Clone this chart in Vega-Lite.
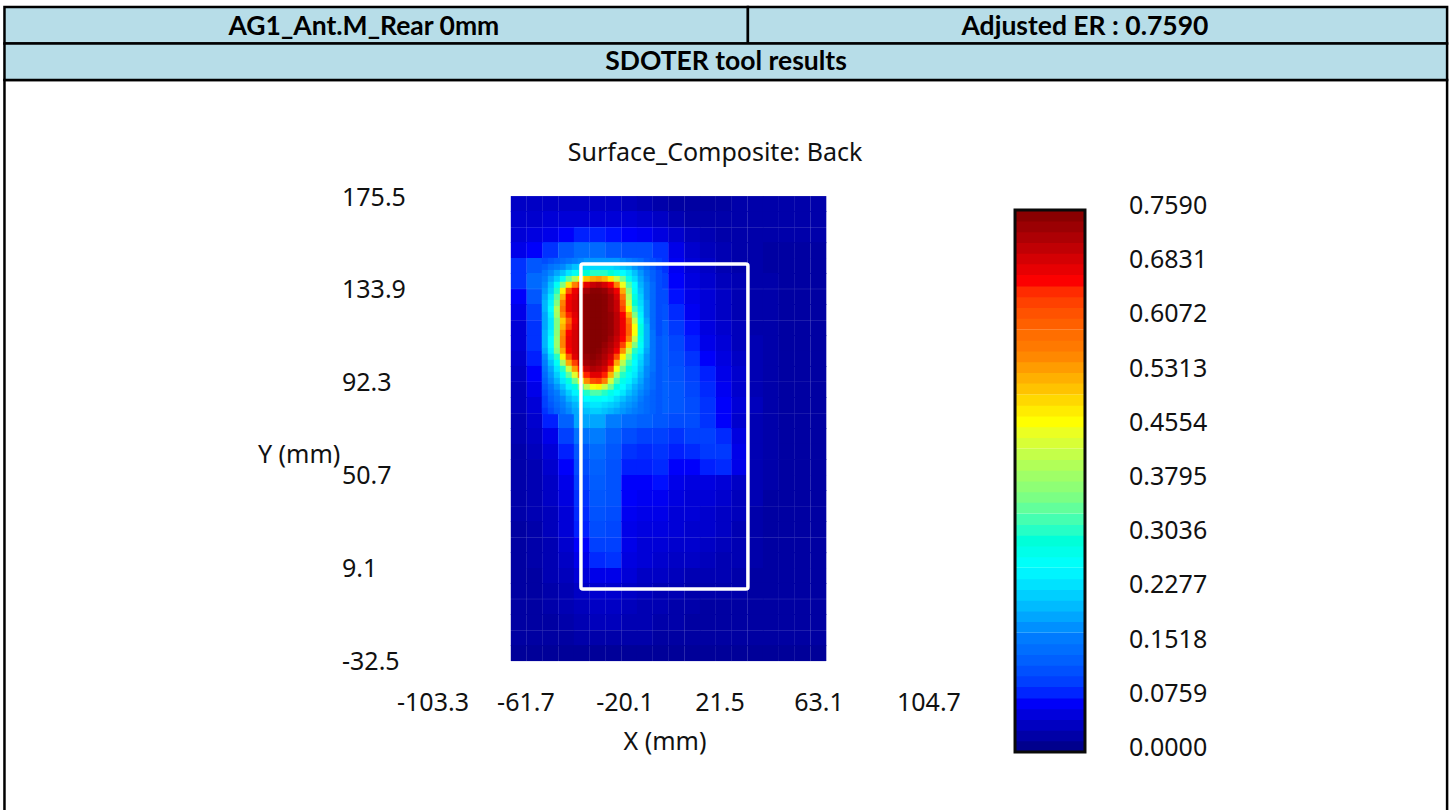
{"$schema":"https://vega.github.io/schema/vega-lite/v6.json","width":1450,"height":810,"autosize":{"type":"fit","contains":"padding"},"padding":0,"background":"white","config":{"view":{"stroke":null}},
"datasets":{"frame":[{"x":-288.3,"x2":44.3,"y":260.1,"y2":243.7},{"x":44.3,"x2":357.1,"y":260.1,"y2":243.7},{"x":-288.3,"x2":357.1,"y":243.7,"y2":227.4}],
"body":[{"x":-288.3,"x2":357.1,"y":227.4,"y2":-110}],
"heads":[{"t":"AG1_Ant.M_Rear 0mm","x":-127.5,"y":250.9},{"t":"Adjusted ER : 0.7590","x":195.1,"y":250.9},{"t":"SDOTER tool results","x":34.5,"y":235.3}],
"ylabs":[{"t":"175.5","y":175.5},{"t":"133.9","y":133.9},{"t":"92.3","y":92.3},{"t":"50.7","y":50.7},{"t":"9.1","y":9.1},{"t":"-32.5","y":-32.5}],
"xlabs":[{"t":"-103.3","x":-96.6},{"t":"-61.7","x":-55},{"t":"-20.1","x":-10.7},{"t":"21.5","x":31.8},{"t":"63.1","x":76.1},{"t":"104.7","x":125.3}],
"caps":[{"t":"Surface_Composite: Back","x":29.6,"y":194.8},{"t":"X (mm)","x":7.2,"y":-68.8}],
"phone":[{"x":-30.4,"x2":44.3,"y":145.1,"y2":-0.3}],
"ticks":[{"v":0.759,"t":"0.7590"},{"v":0.6831,"t":"0.6831"},{"v":0.6072,"t":"0.6072"},{"v":0.5313,"t":"0.5313"},{"v":0.4554,"t":"0.4554"},{"v":0.3795,"t":"0.3795"},{"v":0.3036,"t":"0.3036"},{"v":0.2277,"t":"0.2277"},{"v":0.1518,"t":"0.1518"},{"v":0.0759,"t":"0.0759"},{"v":0,"t":"0.0000"}],
"bar":[{"v":0.008},{"v":0.023},{"v":0.038},{"v":0.053},{"v":0.068},{"v":0.083},{"v":0.099},{"v":0.114},{"v":0.129},{"v":0.144},{"v":0.159},{"v":0.175},{"v":0.19},{"v":0.205},{"v":0.22},{"v":0.235},{"v":0.25},{"v":0.266},{"v":0.281},{"v":0.296},{"v":0.311},{"v":0.326},{"v":0.342},{"v":0.357},{"v":0.372},{"v":0.387},{"v":0.402},{"v":0.417},{"v":0.433},{"v":0.448},{"v":0.463},{"v":0.478},{"v":0.493},{"v":0.509},{"v":0.524},{"v":0.539},{"v":0.554},{"v":0.569},{"v":0.584},{"v":0.6},{"v":0.615},{"v":0.63},{"v":0.645},{"v":0.66},{"v":0.676},{"v":0.691},{"v":0.706},{"v":0.721},{"v":0.736},{"v":0.751}],
"coarse":[
{"x":-58.2,"y":171.9,"v":0.04},{"x":-51.1,"y":171.9,"v":0.04},{"x":-44.1,"y":171.9,"v":0.04},{"x":-37,"y":171.9,"v":0.04},{"x":-30,"y":171.9,"v":0.04},{"x":-22.9,"y":171.9,"v":0.04},{"x":-15.9,"y":171.9,"v":0.04},{"x":-8.8,"y":171.9,"v":0.035},{"x":-1.8,"y":171.9,"v":0.03},{"x":5.3,"y":171.9,"v":0.025},{"x":12.3,"y":171.9,"v":0.02},{"x":19.4,"y":171.9,"v":0.02},{"x":26.4,"y":171.9,"v":0.02},{"x":33.5,"y":171.9,"v":0.02},{"x":40.5,"y":171.9,"v":0.025},{"x":47.6,"y":171.9,"v":0.025},{"x":54.6,"y":171.9,"v":0.025},{"x":61.7,"y":171.9,"v":0.025},{"x":68.7,"y":171.9,"v":0.025},{"x":75.8,"y":171.9,"v":0.025},
{"x":-58.2,"y":165.2,"v":0.045},{"x":-51.1,"y":165.2,"v":0.045},{"x":-44.1,"y":165.2,"v":0.05},{"x":-37,"y":165.2,"v":0.05},{"x":-30,"y":165.2,"v":0.05},{"x":-22.9,"y":165.2,"v":0.05},{"x":-15.9,"y":165.2,"v":0.05},{"x":-8.8,"y":165.2,"v":0.05},{"x":-1.8,"y":165.2,"v":0.045},{"x":5.3,"y":165.2,"v":0.04},{"x":12.3,"y":165.2,"v":0.03},{"x":19.4,"y":165.2,"v":0.025},{"x":26.4,"y":165.2,"v":0.025},{"x":33.5,"y":165.2,"v":0.025},{"x":40.5,"y":165.2,"v":0.025},{"x":47.6,"y":165.2,"v":0.025},{"x":54.6,"y":165.2,"v":0.025},{"x":61.7,"y":165.2,"v":0.025},{"x":68.7,"y":165.2,"v":0.025},{"x":75.8,"y":165.2,"v":0.025},
{"x":-58.2,"y":158,"v":0.05},{"x":-51.1,"y":158,"v":0.055},{"x":-44.1,"y":158,"v":0.06},{"x":-37,"y":158,"v":0.07},{"x":-30,"y":158,"v":0.08},{"x":-22.9,"y":158,"v":0.08},{"x":-15.9,"y":158,"v":0.075},{"x":-8.8,"y":158,"v":0.07},{"x":-1.8,"y":158,"v":0.065},{"x":5.3,"y":158,"v":0.055},{"x":12.3,"y":158,"v":0.045},{"x":19.4,"y":158,"v":0.035},{"x":26.4,"y":158,"v":0.03},{"x":33.5,"y":158,"v":0.025},{"x":40.5,"y":158,"v":0.025},{"x":47.6,"y":158,"v":0.025},{"x":54.6,"y":158,"v":0.025},{"x":61.7,"y":158,"v":0.025},{"x":68.7,"y":158,"v":0.025},{"x":75.8,"y":158,"v":0.025},
{"x":-58.2,"y":151.3,"v":0.06},{"x":-51.1,"y":151.3,"v":0.07},{"x":-44.1,"y":151.3,"v":0.09},{"x":-37,"y":151.3,"v":0.12},{"x":-30,"y":151.3,"v":0.14},{"x":-22.9,"y":151.3,"v":0.14},{"x":-15.9,"y":151.3,"v":0.12},{"x":-8.8,"y":151.3,"v":0.11},{"x":-1.8,"y":151.3,"v":0.11},{"x":5.3,"y":151.3,"v":0.09},{"x":12.3,"y":151.3,"v":0.06},{"x":19.4,"y":151.3,"v":0.045},{"x":26.4,"y":151.3,"v":0.035},{"x":33.5,"y":151.3,"v":0.03},{"x":40.5,"y":151.3,"v":0.025},{"x":47.6,"y":151.3,"v":0.025},{"x":54.6,"y":151.3,"v":0.02},{"x":61.7,"y":151.3,"v":0.02},{"x":68.7,"y":151.3,"v":0.02},{"x":75.8,"y":151.3,"v":0.02},
{"x":-58.2,"y":144.2,"v":0.09},{"x":-51.1,"y":144.2,"v":0.12},{"x":5.3,"y":144.2,"v":0.09},{"x":12.3,"y":144.2,"v":0.065},{"x":19.4,"y":144.2,"v":0.05},{"x":26.4,"y":144.2,"v":0.04},{"x":33.5,"y":144.2,"v":0.03},{"x":40.5,"y":144.2,"v":0.025},{"x":47.6,"y":144.2,"v":0.025},{"x":54.6,"y":144.2,"v":0.02},{"x":61.7,"y":144.2,"v":0.02},{"x":68.7,"y":144.2,"v":0.02},{"x":75.8,"y":144.2,"v":0.02},
{"x":-58.2,"y":137.5,"v":0.09},{"x":-51.1,"y":137.5,"v":0.14},{"x":5.3,"y":137.5,"v":0.1},{"x":12.3,"y":137.5,"v":0.07},{"x":19.4,"y":137.5,"v":0.055},{"x":26.4,"y":137.5,"v":0.045},{"x":33.5,"y":137.5,"v":0.035},{"x":40.5,"y":137.5,"v":0.03},{"x":47.6,"y":137.5,"v":0.025},{"x":54.6,"y":137.5,"v":0.025},{"x":61.7,"y":137.5,"v":0.02},{"x":68.7,"y":137.5,"v":0.02},{"x":75.8,"y":137.5,"v":0.02},
{"x":-58.2,"y":130.3,"v":0.07},{"x":-51.1,"y":130.3,"v":0.12},{"x":5.3,"y":130.3,"v":0.11},{"x":12.3,"y":130.3,"v":0.075},{"x":19.4,"y":130.3,"v":0.06},{"x":26.4,"y":130.3,"v":0.05},{"x":33.5,"y":130.3,"v":0.04},{"x":40.5,"y":130.3,"v":0.03},{"x":47.6,"y":130.3,"v":0.025},{"x":54.6,"y":130.3,"v":0.025},{"x":61.7,"y":130.3,"v":0.02},{"x":68.7,"y":130.3,"v":0.02},{"x":75.8,"y":130.3,"v":0.02},
{"x":-58.2,"y":123.6,"v":0.06},{"x":-51.1,"y":123.6,"v":0.1},{"x":5.3,"y":123.6,"v":0.115},{"x":12.3,"y":123.6,"v":0.085},{"x":19.4,"y":123.6,"v":0.065},{"x":26.4,"y":123.6,"v":0.05},{"x":33.5,"y":123.6,"v":0.04},{"x":40.5,"y":123.6,"v":0.03},{"x":47.6,"y":123.6,"v":0.025},{"x":54.6,"y":123.6,"v":0.025},{"x":61.7,"y":123.6,"v":0.02},{"x":68.7,"y":123.6,"v":0.02},{"x":75.8,"y":123.6,"v":0.02},
{"x":-58.2,"y":116.4,"v":0.05},{"x":-51.1,"y":116.4,"v":0.09},{"x":5.3,"y":116.4,"v":0.125},{"x":12.3,"y":116.4,"v":0.095},{"x":19.4,"y":116.4,"v":0.075},{"x":26.4,"y":116.4,"v":0.055},{"x":33.5,"y":116.4,"v":0.045},{"x":40.5,"y":116.4,"v":0.035},{"x":47.6,"y":116.4,"v":0.025},{"x":54.6,"y":116.4,"v":0.025},{"x":61.7,"y":116.4,"v":0.02},{"x":68.7,"y":116.4,"v":0.02},{"x":75.8,"y":116.4,"v":0.02},
{"x":-58.2,"y":109.7,"v":0.05},{"x":-51.1,"y":109.7,"v":0.09},{"x":5.3,"y":109.7,"v":0.13},{"x":12.3,"y":109.7,"v":0.105},{"x":19.4,"y":109.7,"v":0.08},{"x":26.4,"y":109.7,"v":0.06},{"x":33.5,"y":109.7,"v":0.05},{"x":40.5,"y":109.7,"v":0.035},{"x":47.6,"y":109.7,"v":0.03},{"x":54.6,"y":109.7,"v":0.025},{"x":61.7,"y":109.7,"v":0.02},{"x":68.7,"y":109.7,"v":0.02},{"x":75.8,"y":109.7,"v":0.02},
{"x":-58.2,"y":102.6,"v":0.045},{"x":-51.1,"y":102.6,"v":0.08},{"x":5.3,"y":102.6,"v":0.13},{"x":12.3,"y":102.6,"v":0.11},{"x":19.4,"y":102.6,"v":0.09},{"x":26.4,"y":102.6,"v":0.07},{"x":33.5,"y":102.6,"v":0.055},{"x":40.5,"y":102.6,"v":0.04},{"x":47.6,"y":102.6,"v":0.03},{"x":54.6,"y":102.6,"v":0.025},{"x":61.7,"y":102.6,"v":0.02},{"x":68.7,"y":102.6,"v":0.02},{"x":75.8,"y":102.6,"v":0.02},
{"x":-58.2,"y":95.9,"v":0.04},{"x":-51.1,"y":95.9,"v":0.07},{"x":5.3,"y":95.9,"v":0.13},{"x":12.3,"y":95.9,"v":0.115},{"x":19.4,"y":95.9,"v":0.1},{"x":26.4,"y":95.9,"v":0.08},{"x":33.5,"y":95.9,"v":0.06},{"x":40.5,"y":95.9,"v":0.045},{"x":47.6,"y":95.9,"v":0.03},{"x":54.6,"y":95.9,"v":0.025},{"x":61.7,"y":95.9,"v":0.02},{"x":68.7,"y":95.9,"v":0.02},{"x":75.8,"y":95.9,"v":0.02},
{"x":-58.2,"y":88.7,"v":0.035},{"x":-51.1,"y":88.7,"v":0.06},{"x":5.3,"y":88.7,"v":0.13},{"x":12.3,"y":88.7,"v":0.12},{"x":19.4,"y":88.7,"v":0.105},{"x":26.4,"y":88.7,"v":0.085},{"x":33.5,"y":88.7,"v":0.065},{"x":40.5,"y":88.7,"v":0.045},{"x":47.6,"y":88.7,"v":0.03},{"x":54.6,"y":88.7,"v":0.025},{"x":61.7,"y":88.7,"v":0.02},{"x":68.7,"y":88.7,"v":0.02},{"x":75.8,"y":88.7,"v":0.02},
{"x":-58.2,"y":82,"v":0.035},{"x":-51.1,"y":82,"v":0.05},{"x":5.3,"y":82,"v":0.13},{"x":12.3,"y":82,"v":0.12},{"x":19.4,"y":82,"v":0.11},{"x":26.4,"y":82,"v":0.09},{"x":33.5,"y":82,"v":0.07},{"x":40.5,"y":82,"v":0.05},{"x":47.6,"y":82,"v":0.035},{"x":54.6,"y":82,"v":0.025},{"x":61.7,"y":82,"v":0.02},{"x":68.7,"y":82,"v":0.02},{"x":75.8,"y":82,"v":0.02},
{"x":-58.2,"y":74.8,"v":0.03},{"x":-51.1,"y":74.8,"v":0.045},{"x":-44.1,"y":74.8,"v":0.08},{"x":-37,"y":74.8,"v":0.13},{"x":-30,"y":74.8,"v":0.19},{"x":-22.9,"y":74.8,"v":0.19},{"x":-15.9,"y":74.8,"v":0.16},{"x":-8.8,"y":74.8,"v":0.14},{"x":-1.8,"y":74.8,"v":0.13},{"x":5.3,"y":74.8,"v":0.12},{"x":12.3,"y":74.8,"v":0.11},{"x":19.4,"y":74.8,"v":0.11},{"x":26.4,"y":74.8,"v":0.09},{"x":33.5,"y":74.8,"v":0.07},{"x":40.5,"y":74.8,"v":0.045},{"x":47.6,"y":74.8,"v":0.03},{"x":54.6,"y":74.8,"v":0.025},{"x":61.7,"y":74.8,"v":0.02},{"x":68.7,"y":74.8,"v":0.02},{"x":75.8,"y":74.8,"v":0.02},
{"x":-58.2,"y":68.1,"v":0.03},{"x":-51.1,"y":68.1,"v":0.04},{"x":-44.1,"y":68.1,"v":0.06},{"x":-37,"y":68.1,"v":0.1},{"x":-30,"y":68.1,"v":0.15},{"x":-22.9,"y":68.1,"v":0.16},{"x":-15.9,"y":68.1,"v":0.13},{"x":-8.8,"y":68.1,"v":0.11},{"x":-1.8,"y":68.1,"v":0.1},{"x":5.3,"y":68.1,"v":0.1},{"x":12.3,"y":68.1,"v":0.09},{"x":19.4,"y":68.1,"v":0.1},{"x":26.4,"y":68.1,"v":0.1},{"x":33.5,"y":68.1,"v":0.085},{"x":40.5,"y":68.1,"v":0.055},{"x":47.6,"y":68.1,"v":0.03},{"x":54.6,"y":68.1,"v":0.025},{"x":61.7,"y":68.1,"v":0.02},{"x":68.7,"y":68.1,"v":0.02},{"x":75.8,"y":68.1,"v":0.02},
{"x":-58.2,"y":61,"v":0.025},{"x":-51.1,"y":61,"v":0.035},{"x":-44.1,"y":61,"v":0.05},{"x":-37,"y":61,"v":0.08},{"x":-30,"y":61,"v":0.12},{"x":-22.9,"y":61,"v":0.14},{"x":-15.9,"y":61,"v":0.12},{"x":-8.8,"y":61,"v":0.09},{"x":-1.8,"y":61,"v":0.085},{"x":5.3,"y":61,"v":0.09},{"x":12.3,"y":61,"v":0.08},{"x":19.4,"y":61,"v":0.085},{"x":26.4,"y":61,"v":0.095},{"x":33.5,"y":61,"v":0.095},{"x":40.5,"y":61,"v":0.06},{"x":47.6,"y":61,"v":0.03},{"x":54.6,"y":61,"v":0.025},{"x":61.7,"y":61,"v":0.02},{"x":68.7,"y":61,"v":0.02},{"x":75.8,"y":61,"v":0.02},
{"x":-58.2,"y":54.2,"v":0.025},{"x":-51.1,"y":54.2,"v":0.03},{"x":-44.1,"y":54.2,"v":0.045},{"x":-37,"y":54.2,"v":0.07},{"x":-30,"y":54.2,"v":0.11},{"x":-22.9,"y":54.2,"v":0.13},{"x":-15.9,"y":54.2,"v":0.115},{"x":-8.8,"y":54.2,"v":0.08},{"x":-1.8,"y":54.2,"v":0.08},{"x":5.3,"y":54.2,"v":0.085},{"x":12.3,"y":54.2,"v":0.07},{"x":19.4,"y":54.2,"v":0.07},{"x":26.4,"y":54.2,"v":0.08},{"x":33.5,"y":54.2,"v":0.085},{"x":40.5,"y":54.2,"v":0.06},{"x":47.6,"y":54.2,"v":0.03},{"x":54.6,"y":54.2,"v":0.025},{"x":61.7,"y":54.2,"v":0.02},{"x":68.7,"y":54.2,"v":0.02},{"x":75.8,"y":54.2,"v":0.02},
{"x":-58.2,"y":47.1,"v":0.025},{"x":-51.1,"y":47.1,"v":0.03},{"x":-44.1,"y":47.1,"v":0.04},{"x":-37,"y":47.1,"v":0.06},{"x":-30,"y":47.1,"v":0.1},{"x":-22.9,"y":47.1,"v":0.125},{"x":-15.9,"y":47.1,"v":0.115},{"x":-8.8,"y":47.1,"v":0.07},{"x":-1.8,"y":47.1,"v":0.07},{"x":5.3,"y":47.1,"v":0.075},{"x":12.3,"y":47.1,"v":0.06},{"x":19.4,"y":47.1,"v":0.055},{"x":26.4,"y":47.1,"v":0.055},{"x":33.5,"y":47.1,"v":0.05},{"x":40.5,"y":47.1,"v":0.04},{"x":47.6,"y":47.1,"v":0.03},{"x":54.6,"y":47.1,"v":0.025},{"x":61.7,"y":47.1,"v":0.02},{"x":68.7,"y":47.1,"v":0.02},{"x":75.8,"y":47.1,"v":0.02},
{"x":-58.2,"y":40.4,"v":0.025},{"x":-51.1,"y":40.4,"v":0.03},{"x":-44.1,"y":40.4,"v":0.04},{"x":-37,"y":40.4,"v":0.055},{"x":-30,"y":40.4,"v":0.09},{"x":-22.9,"y":40.4,"v":0.12},{"x":-15.9,"y":40.4,"v":0.115},{"x":-8.8,"y":40.4,"v":0.07},{"x":-1.8,"y":40.4,"v":0.065},{"x":5.3,"y":40.4,"v":0.065},{"x":12.3,"y":40.4,"v":0.055},{"x":19.4,"y":40.4,"v":0.05},{"x":26.4,"y":40.4,"v":0.05},{"x":33.5,"y":40.4,"v":0.045},{"x":40.5,"y":40.4,"v":0.035},{"x":47.6,"y":40.4,"v":0.03},{"x":54.6,"y":40.4,"v":0.02},{"x":61.7,"y":40.4,"v":0.02},{"x":68.7,"y":40.4,"v":0.02},{"x":75.8,"y":40.4,"v":0.02},
{"x":-58.2,"y":33.2,"v":0.025},{"x":-51.1,"y":33.2,"v":0.03},{"x":-44.1,"y":33.2,"v":0.035},{"x":-37,"y":33.2,"v":0.05},{"x":-30,"y":33.2,"v":0.085},{"x":-22.9,"y":33.2,"v":0.115},{"x":-15.9,"y":33.2,"v":0.11},{"x":-8.8,"y":33.2,"v":0.065},{"x":-1.8,"y":33.2,"v":0.06},{"x":5.3,"y":33.2,"v":0.06},{"x":12.3,"y":33.2,"v":0.05},{"x":19.4,"y":33.2,"v":0.05},{"x":26.4,"y":33.2,"v":0.045},{"x":33.5,"y":33.2,"v":0.04},{"x":40.5,"y":33.2,"v":0.035},{"x":47.6,"y":33.2,"v":0.025},{"x":54.6,"y":33.2,"v":0.02},{"x":61.7,"y":33.2,"v":0.02},{"x":68.7,"y":33.2,"v":0.02},{"x":75.8,"y":33.2,"v":0.02},
{"x":-58.2,"y":26.5,"v":0.02},{"x":-51.1,"y":26.5,"v":0.025},{"x":-44.1,"y":26.5,"v":0.035},{"x":-37,"y":26.5,"v":0.05},{"x":-30,"y":26.5,"v":0.08},{"x":-22.9,"y":26.5,"v":0.11},{"x":-15.9,"y":26.5,"v":0.105},{"x":-8.8,"y":26.5,"v":0.06},{"x":-1.8,"y":26.5,"v":0.055},{"x":5.3,"y":26.5,"v":0.055},{"x":12.3,"y":26.5,"v":0.05},{"x":19.4,"y":26.5,"v":0.045},{"x":26.4,"y":26.5,"v":0.045},{"x":33.5,"y":26.5,"v":0.04},{"x":40.5,"y":26.5,"v":0.03},{"x":47.6,"y":26.5,"v":0.025},{"x":54.6,"y":26.5,"v":0.02},{"x":61.7,"y":26.5,"v":0.02},{"x":68.7,"y":26.5,"v":0.02},{"x":75.8,"y":26.5,"v":0.02},
{"x":-58.2,"y":19.3,"v":0.02},{"x":-51.1,"y":19.3,"v":0.025},{"x":-44.1,"y":19.3,"v":0.03},{"x":-37,"y":19.3,"v":0.045},{"x":-30,"y":19.3,"v":0.07},{"x":-22.9,"y":19.3,"v":0.1},{"x":-15.9,"y":19.3,"v":0.1},{"x":-8.8,"y":19.3,"v":0.06},{"x":-1.8,"y":19.3,"v":0.05},{"x":5.3,"y":19.3,"v":0.05},{"x":12.3,"y":19.3,"v":0.045},{"x":19.4,"y":19.3,"v":0.045},{"x":26.4,"y":19.3,"v":0.04},{"x":33.5,"y":19.3,"v":0.035},{"x":40.5,"y":19.3,"v":0.03},{"x":47.6,"y":19.3,"v":0.025},{"x":54.6,"y":19.3,"v":0.02},{"x":61.7,"y":19.3,"v":0.02},{"x":68.7,"y":19.3,"v":0.02},{"x":75.8,"y":19.3,"v":0.02},
{"x":-58.2,"y":12.6,"v":0.02},{"x":-51.1,"y":12.6,"v":0.025},{"x":-44.1,"y":12.6,"v":0.03},{"x":-37,"y":12.6,"v":0.04},{"x":-30,"y":12.6,"v":0.06},{"x":-22.9,"y":12.6,"v":0.085},{"x":-15.9,"y":12.6,"v":0.09},{"x":-8.8,"y":12.6,"v":0.055},{"x":-1.8,"y":12.6,"v":0.05},{"x":5.3,"y":12.6,"v":0.045},{"x":12.3,"y":12.6,"v":0.04},{"x":19.4,"y":12.6,"v":0.04},{"x":26.4,"y":12.6,"v":0.035},{"x":33.5,"y":12.6,"v":0.03},{"x":40.5,"y":12.6,"v":0.03},{"x":47.6,"y":12.6,"v":0.025},{"x":54.6,"y":12.6,"v":0.02},{"x":61.7,"y":12.6,"v":0.02},{"x":68.7,"y":12.6,"v":0.02},{"x":75.8,"y":12.6,"v":0.02},
{"x":-58.2,"y":5.5,"v":0.02},{"x":-51.1,"y":5.5,"v":0.02},{"x":-44.1,"y":5.5,"v":0.03},{"x":-37,"y":5.5,"v":0.035},{"x":-30,"y":5.5,"v":0.05},{"x":-22.9,"y":5.5,"v":0.06},{"x":-15.9,"y":5.5,"v":0.06},{"x":-8.8,"y":5.5,"v":0.05},{"x":-1.8,"y":5.5,"v":0.04},{"x":5.3,"y":5.5,"v":0.04},{"x":12.3,"y":5.5,"v":0.035},{"x":19.4,"y":5.5,"v":0.03},{"x":26.4,"y":5.5,"v":0.03},{"x":33.5,"y":5.5,"v":0.03},{"x":40.5,"y":5.5,"v":0.025},{"x":47.6,"y":5.5,"v":0.02},{"x":54.6,"y":5.5,"v":0.02},{"x":61.7,"y":5.5,"v":0.02},{"x":68.7,"y":5.5,"v":0.02},{"x":75.8,"y":5.5,"v":0.02},
{"x":-58.2,"y":-1.2,"v":0.02},{"x":-51.1,"y":-1.2,"v":0.02},{"x":-44.1,"y":-1.2,"v":0.025},{"x":-37,"y":-1.2,"v":0.03},{"x":-30,"y":-1.2,"v":0.04},{"x":-22.9,"y":-1.2,"v":0.045},{"x":-15.9,"y":-1.2,"v":0.045},{"x":-8.8,"y":-1.2,"v":0.04},{"x":-1.8,"y":-1.2,"v":0.035},{"x":5.3,"y":-1.2,"v":0.03},{"x":12.3,"y":-1.2,"v":0.03},{"x":19.4,"y":-1.2,"v":0.025},{"x":26.4,"y":-1.2,"v":0.025},{"x":33.5,"y":-1.2,"v":0.025},{"x":40.5,"y":-1.2,"v":0.025},{"x":47.6,"y":-1.2,"v":0.02},{"x":54.6,"y":-1.2,"v":0.02},{"x":61.7,"y":-1.2,"v":0.02},{"x":68.7,"y":-1.2,"v":0.02},{"x":75.8,"y":-1.2,"v":0.02},
{"x":-58.2,"y":-8.4,"v":0.02},{"x":-51.1,"y":-8.4,"v":0.02},{"x":-44.1,"y":-8.4,"v":0.025},{"x":-37,"y":-8.4,"v":0.03},{"x":-30,"y":-8.4,"v":0.035},{"x":-22.9,"y":-8.4,"v":0.04},{"x":-15.9,"y":-8.4,"v":0.04},{"x":-8.8,"y":-8.4,"v":0.035},{"x":-1.8,"y":-8.4,"v":0.03},{"x":5.3,"y":-8.4,"v":0.03},{"x":12.3,"y":-8.4,"v":0.025},{"x":19.4,"y":-8.4,"v":0.025},{"x":26.4,"y":-8.4,"v":0.02},{"x":33.5,"y":-8.4,"v":0.02},{"x":40.5,"y":-8.4,"v":0.02},{"x":47.6,"y":-8.4,"v":0.02},{"x":54.6,"y":-8.4,"v":0.02},{"x":61.7,"y":-8.4,"v":0.02},{"x":68.7,"y":-8.4,"v":0.02},{"x":75.8,"y":-8.4,"v":0.02},
{"x":-58.2,"y":-15.1,"v":0.02},{"x":-51.1,"y":-15.1,"v":0.02},{"x":-44.1,"y":-15.1,"v":0.02},{"x":-37,"y":-15.1,"v":0.025},{"x":-30,"y":-15.1,"v":0.03},{"x":-22.9,"y":-15.1,"v":0.035},{"x":-15.9,"y":-15.1,"v":0.035},{"x":-8.8,"y":-15.1,"v":0.03},{"x":-1.8,"y":-15.1,"v":0.03},{"x":5.3,"y":-15.1,"v":0.025},{"x":12.3,"y":-15.1,"v":0.025},{"x":19.4,"y":-15.1,"v":0.02},{"x":26.4,"y":-15.1,"v":0.02},{"x":33.5,"y":-15.1,"v":0.02},{"x":40.5,"y":-15.1,"v":0.02},{"x":47.6,"y":-15.1,"v":0.02},{"x":54.6,"y":-15.1,"v":0.02},{"x":61.7,"y":-15.1,"v":0.02},{"x":68.7,"y":-15.1,"v":0.02},{"x":75.8,"y":-15.1,"v":0.02},
{"x":-58.2,"y":-22.3,"v":0.02},{"x":-51.1,"y":-22.3,"v":0.02},{"x":-44.1,"y":-22.3,"v":0.02},{"x":-37,"y":-22.3,"v":0.02},{"x":-30,"y":-22.3,"v":0.025},{"x":-22.9,"y":-22.3,"v":0.025},{"x":-15.9,"y":-22.3,"v":0.025},{"x":-8.8,"y":-22.3,"v":0.025},{"x":-1.8,"y":-22.3,"v":0.025},{"x":5.3,"y":-22.3,"v":0.02},{"x":12.3,"y":-22.3,"v":0.02},{"x":19.4,"y":-22.3,"v":0.02},{"x":26.4,"y":-22.3,"v":0.02},{"x":33.5,"y":-22.3,"v":0.02},{"x":40.5,"y":-22.3,"v":0.02},{"x":47.6,"y":-22.3,"v":0.02},{"x":54.6,"y":-22.3,"v":0.02},{"x":61.7,"y":-22.3,"v":0.02},{"x":68.7,"y":-22.3,"v":0.02},{"x":75.8,"y":-22.3,"v":0.02},
{"x":-58.2,"y":-29,"v":0.015},{"x":-51.1,"y":-29,"v":0.015},{"x":-44.1,"y":-29,"v":0.015},{"x":-37,"y":-29,"v":0.015},{"x":-30,"y":-29,"v":0.015},{"x":-22.9,"y":-29,"v":0.015},{"x":-15.9,"y":-29,"v":0.015},{"x":-8.8,"y":-29,"v":0.015},{"x":-1.8,"y":-29,"v":0.015},{"x":5.3,"y":-29,"v":0.015},{"x":12.3,"y":-29,"v":0.015},{"x":19.4,"y":-29,"v":0.015},{"x":26.4,"y":-29,"v":0.015},{"x":33.5,"y":-29,"v":0.015},{"x":40.5,"y":-29,"v":0.015},{"x":47.6,"y":-29,"v":0.015},{"x":54.6,"y":-29,"v":0.015},{"x":61.7,"y":-29,"v":0.015},{"x":68.7,"y":-29,"v":0.015},{"x":75.8,"y":-29,"v":0.015}],
"fine":[
{"x":-46.5,"y":146.4,"v":0.11},{"x":-43.8,"y":146.4,"v":0.12},{"x":-41.1,"y":146.4,"v":0.13},{"x":-38.4,"y":146.4,"v":0.14},{"x":-35.8,"y":146.4,"v":0.15},{"x":-33.1,"y":146.4,"v":0.16},{"x":-30.4,"y":146.4,"v":0.17},{"x":-27.7,"y":146.4,"v":0.18},{"x":-25,"y":146.4,"v":0.18},{"x":-22.3,"y":146.4,"v":0.18},{"x":-19.7,"y":146.4,"v":0.18},{"x":-17,"y":146.4,"v":0.18},{"x":-14.3,"y":146.4,"v":0.18},{"x":-11.6,"y":146.4,"v":0.17},{"x":-8.9,"y":146.4,"v":0.16},{"x":-6.2,"y":146.4,"v":0.15},{"x":-3.6,"y":146.4,"v":0.14},{"x":-0.9,"y":146.4,"v":0.12},{"x":1.8,"y":146.4,"v":0.11},{"x":4.5,"y":146.4,"v":0.1},
{"x":-46.5,"y":143.7,"v":0.13},{"x":-43.8,"y":143.7,"v":0.15},{"x":-41.1,"y":143.7,"v":0.16},{"x":-38.4,"y":143.7,"v":0.17},{"x":-35.8,"y":143.7,"v":0.19},{"x":-33.1,"y":143.7,"v":0.21},{"x":-30.4,"y":143.7,"v":0.22},{"x":-27.7,"y":143.7,"v":0.23},{"x":-25,"y":143.7,"v":0.23},{"x":-22.3,"y":143.7,"v":0.23},{"x":-19.7,"y":143.7,"v":0.23},{"x":-17,"y":143.7,"v":0.23},{"x":-14.3,"y":143.7,"v":0.22},{"x":-11.6,"y":143.7,"v":0.21},{"x":-8.9,"y":143.7,"v":0.2},{"x":-6.2,"y":143.7,"v":0.18},{"x":-3.6,"y":143.7,"v":0.16},{"x":-0.9,"y":143.7,"v":0.14},{"x":1.8,"y":143.7,"v":0.12},{"x":4.5,"y":143.7,"v":0.1},
{"x":-46.5,"y":141,"v":0.15},{"x":-43.8,"y":141,"v":0.17},{"x":-41.1,"y":141,"v":0.19},{"x":-38.4,"y":141,"v":0.21},{"x":-35.8,"y":141,"v":0.24},{"x":-33.1,"y":141,"v":0.27},{"x":-30.4,"y":141,"v":0.29},{"x":-27.7,"y":141,"v":0.3},{"x":-25,"y":141,"v":0.31},{"x":-22.3,"y":141,"v":0.31},{"x":-19.7,"y":141,"v":0.31},{"x":-17,"y":141,"v":0.3},{"x":-14.3,"y":141,"v":0.28},{"x":-11.6,"y":141,"v":0.26},{"x":-8.9,"y":141,"v":0.24},{"x":-6.2,"y":141,"v":0.21},{"x":-3.6,"y":141,"v":0.18},{"x":-0.9,"y":141,"v":0.15},{"x":1.8,"y":141,"v":0.13},{"x":4.5,"y":141,"v":0.11},
{"x":-46.5,"y":138.3,"v":0.16},{"x":-43.8,"y":138.3,"v":0.19},{"x":-41.1,"y":138.3,"v":0.22},{"x":-38.4,"y":138.3,"v":0.27},{"x":-35.8,"y":138.3,"v":0.34},{"x":-33.1,"y":138.3,"v":0.4},{"x":-30.4,"y":138.3,"v":0.47},{"x":-27.7,"y":138.3,"v":0.51},{"x":-25,"y":138.3,"v":0.53},{"x":-22.3,"y":138.3,"v":0.54},{"x":-19.7,"y":138.3,"v":0.52},{"x":-17,"y":138.3,"v":0.48},{"x":-14.3,"y":138.3,"v":0.42},{"x":-11.6,"y":138.3,"v":0.35},{"x":-8.9,"y":138.3,"v":0.28},{"x":-6.2,"y":138.3,"v":0.23},{"x":-3.6,"y":138.3,"v":0.19},{"x":-0.9,"y":138.3,"v":0.16},{"x":1.8,"y":138.3,"v":0.13},{"x":4.5,"y":138.3,"v":0.11},
{"x":-46.5,"y":135.7,"v":0.17},{"x":-43.8,"y":135.7,"v":0.21},{"x":-41.1,"y":135.7,"v":0.27},{"x":-38.4,"y":135.7,"v":0.36},{"x":-35.8,"y":135.7,"v":0.48},{"x":-33.1,"y":135.7,"v":0.56},{"x":-30.4,"y":135.7,"v":0.63},{"x":-27.7,"y":135.7,"v":0.68},{"x":-25,"y":135.7,"v":0.7},{"x":-22.3,"y":135.7,"v":0.71},{"x":-19.7,"y":135.7,"v":0.69},{"x":-17,"y":135.7,"v":0.66},{"x":-14.3,"y":135.7,"v":0.56},{"x":-11.6,"y":135.7,"v":0.45},{"x":-8.9,"y":135.7,"v":0.33},{"x":-6.2,"y":135.7,"v":0.26},{"x":-3.6,"y":135.7,"v":0.2},{"x":-0.9,"y":135.7,"v":0.17},{"x":1.8,"y":135.7,"v":0.14},{"x":4.5,"y":135.7,"v":0.11},
{"x":-46.5,"y":133,"v":0.18},{"x":-43.8,"y":133,"v":0.22},{"x":-41.1,"y":133,"v":0.31},{"x":-38.4,"y":133,"v":0.47},{"x":-35.8,"y":133,"v":0.62},{"x":-33.1,"y":133,"v":0.67},{"x":-30.4,"y":133,"v":0.7},{"x":-27.7,"y":133,"v":0.73},{"x":-25,"y":133,"v":0.75},{"x":-22.3,"y":133,"v":0.75},{"x":-19.7,"y":133,"v":0.74},{"x":-17,"y":133,"v":0.71},{"x":-14.3,"y":133,"v":0.67},{"x":-11.6,"y":133,"v":0.53},{"x":-8.9,"y":133,"v":0.37},{"x":-6.2,"y":133,"v":0.27},{"x":-3.6,"y":133,"v":0.21},{"x":-0.9,"y":133,"v":0.17},{"x":1.8,"y":133,"v":0.14},{"x":4.5,"y":133,"v":0.11},
{"x":-46.5,"y":130.3,"v":0.19},{"x":-43.8,"y":130.3,"v":0.24},{"x":-41.1,"y":130.3,"v":0.34},{"x":-38.4,"y":130.3,"v":0.52},{"x":-35.8,"y":130.3,"v":0.66},{"x":-33.1,"y":130.3,"v":0.68},{"x":-30.4,"y":130.3,"v":0.72},{"x":-27.7,"y":130.3,"v":0.75},{"x":-25,"y":130.3,"v":0.755},{"x":-22.3,"y":130.3,"v":0.755},{"x":-19.7,"y":130.3,"v":0.75},{"x":-17,"y":130.3,"v":0.73},{"x":-14.3,"y":130.3,"v":0.69},{"x":-11.6,"y":130.3,"v":0.58},{"x":-8.9,"y":130.3,"v":0.4},{"x":-6.2,"y":130.3,"v":0.29},{"x":-3.6,"y":130.3,"v":0.22},{"x":-0.9,"y":130.3,"v":0.17},{"x":1.8,"y":130.3,"v":0.14},{"x":4.5,"y":130.3,"v":0.11},
{"x":-46.5,"y":127.6,"v":0.2},{"x":-43.8,"y":127.6,"v":0.25},{"x":-41.1,"y":127.6,"v":0.36},{"x":-38.4,"y":127.6,"v":0.56},{"x":-35.8,"y":127.6,"v":0.67},{"x":-33.1,"y":127.6,"v":0.69},{"x":-30.4,"y":127.6,"v":0.72},{"x":-27.7,"y":127.6,"v":0.75},{"x":-25,"y":127.6,"v":0.755},{"x":-22.3,"y":127.6,"v":0.755},{"x":-19.7,"y":127.6,"v":0.75},{"x":-17,"y":127.6,"v":0.73},{"x":-14.3,"y":127.6,"v":0.7},{"x":-11.6,"y":127.6,"v":0.61},{"x":-8.9,"y":127.6,"v":0.43},{"x":-6.2,"y":127.6,"v":0.3},{"x":-3.6,"y":127.6,"v":0.23},{"x":-0.9,"y":127.6,"v":0.18},{"x":1.8,"y":127.6,"v":0.14},{"x":4.5,"y":127.6,"v":0.11},
{"x":-46.5,"y":124.9,"v":0.2},{"x":-43.8,"y":124.9,"v":0.26},{"x":-41.1,"y":124.9,"v":0.4},{"x":-38.4,"y":124.9,"v":0.58},{"x":-35.8,"y":124.9,"v":0.67},{"x":-33.1,"y":124.9,"v":0.69},{"x":-30.4,"y":124.9,"v":0.72},{"x":-27.7,"y":124.9,"v":0.75},{"x":-25,"y":124.9,"v":0.755},{"x":-22.3,"y":124.9,"v":0.755},{"x":-19.7,"y":124.9,"v":0.75},{"x":-17,"y":124.9,"v":0.73},{"x":-14.3,"y":124.9,"v":0.7},{"x":-11.6,"y":124.9,"v":0.63},{"x":-8.9,"y":124.9,"v":0.47},{"x":-6.2,"y":124.9,"v":0.32},{"x":-3.6,"y":124.9,"v":0.24},{"x":-0.9,"y":124.9,"v":0.18},{"x":1.8,"y":124.9,"v":0.14},{"x":4.5,"y":124.9,"v":0.11},
{"x":-46.5,"y":122.2,"v":0.19},{"x":-43.8,"y":122.2,"v":0.25},{"x":-41.1,"y":122.2,"v":0.39},{"x":-38.4,"y":122.2,"v":0.55},{"x":-35.8,"y":122.2,"v":0.65},{"x":-33.1,"y":122.2,"v":0.68},{"x":-30.4,"y":122.2,"v":0.72},{"x":-27.7,"y":122.2,"v":0.75},{"x":-25,"y":122.2,"v":0.755},{"x":-22.3,"y":122.2,"v":0.755},{"x":-19.7,"y":122.2,"v":0.75},{"x":-17,"y":122.2,"v":0.74},{"x":-14.3,"y":122.2,"v":0.71},{"x":-11.6,"y":122.2,"v":0.66},{"x":-8.9,"y":122.2,"v":0.53},{"x":-6.2,"y":122.2,"v":0.36},{"x":-3.6,"y":122.2,"v":0.25},{"x":-0.9,"y":122.2,"v":0.18},{"x":1.8,"y":122.2,"v":0.14},{"x":4.5,"y":122.2,"v":0.11},
{"x":-46.5,"y":119.6,"v":0.19},{"x":-43.8,"y":119.6,"v":0.24},{"x":-41.1,"y":119.6,"v":0.36},{"x":-38.4,"y":119.6,"v":0.5},{"x":-35.8,"y":119.6,"v":0.6},{"x":-33.1,"y":119.6,"v":0.67},{"x":-30.4,"y":119.6,"v":0.72},{"x":-27.7,"y":119.6,"v":0.75},{"x":-25,"y":119.6,"v":0.755},{"x":-22.3,"y":119.6,"v":0.755},{"x":-19.7,"y":119.6,"v":0.75},{"x":-17,"y":119.6,"v":0.74},{"x":-14.3,"y":119.6,"v":0.71},{"x":-11.6,"y":119.6,"v":0.67},{"x":-8.9,"y":119.6,"v":0.58},{"x":-6.2,"y":119.6,"v":0.42},{"x":-3.6,"y":119.6,"v":0.27},{"x":-0.9,"y":119.6,"v":0.19},{"x":1.8,"y":119.6,"v":0.14},{"x":4.5,"y":119.6,"v":0.11},
{"x":-46.5,"y":116.9,"v":0.19},{"x":-43.8,"y":116.9,"v":0.24},{"x":-41.1,"y":116.9,"v":0.36},{"x":-38.4,"y":116.9,"v":0.52},{"x":-35.8,"y":116.9,"v":0.63},{"x":-33.1,"y":116.9,"v":0.68},{"x":-30.4,"y":116.9,"v":0.72},{"x":-27.7,"y":116.9,"v":0.75},{"x":-25,"y":116.9,"v":0.755},{"x":-22.3,"y":116.9,"v":0.755},{"x":-19.7,"y":116.9,"v":0.75},{"x":-17,"y":116.9,"v":0.74},{"x":-14.3,"y":116.9,"v":0.71},{"x":-11.6,"y":116.9,"v":0.67},{"x":-8.9,"y":116.9,"v":0.6},{"x":-6.2,"y":116.9,"v":0.46},{"x":-3.6,"y":116.9,"v":0.29},{"x":-0.9,"y":116.9,"v":0.2},{"x":1.8,"y":116.9,"v":0.14},{"x":4.5,"y":116.9,"v":0.11},
{"x":-46.5,"y":114.2,"v":0.2},{"x":-43.8,"y":114.2,"v":0.25},{"x":-41.1,"y":114.2,"v":0.37},{"x":-38.4,"y":114.2,"v":0.55},{"x":-35.8,"y":114.2,"v":0.66},{"x":-33.1,"y":114.2,"v":0.69},{"x":-30.4,"y":114.2,"v":0.72},{"x":-27.7,"y":114.2,"v":0.75},{"x":-25,"y":114.2,"v":0.755},{"x":-22.3,"y":114.2,"v":0.755},{"x":-19.7,"y":114.2,"v":0.75},{"x":-17,"y":114.2,"v":0.74},{"x":-14.3,"y":114.2,"v":0.71},{"x":-11.6,"y":114.2,"v":0.67},{"x":-8.9,"y":114.2,"v":0.6},{"x":-6.2,"y":114.2,"v":0.46},{"x":-3.6,"y":114.2,"v":0.29},{"x":-0.9,"y":114.2,"v":0.2},{"x":1.8,"y":114.2,"v":0.15},{"x":4.5,"y":114.2,"v":0.11},
{"x":-46.5,"y":111.5,"v":0.2},{"x":-43.8,"y":111.5,"v":0.26},{"x":-41.1,"y":111.5,"v":0.38},{"x":-38.4,"y":111.5,"v":0.56},{"x":-35.8,"y":111.5,"v":0.67},{"x":-33.1,"y":111.5,"v":0.69},{"x":-30.4,"y":111.5,"v":0.72},{"x":-27.7,"y":111.5,"v":0.75},{"x":-25,"y":111.5,"v":0.755},{"x":-22.3,"y":111.5,"v":0.755},{"x":-19.7,"y":111.5,"v":0.75},{"x":-17,"y":111.5,"v":0.73},{"x":-14.3,"y":111.5,"v":0.7},{"x":-11.6,"y":111.5,"v":0.66},{"x":-8.9,"y":111.5,"v":0.56},{"x":-6.2,"y":111.5,"v":0.42},{"x":-3.6,"y":111.5,"v":0.28},{"x":-0.9,"y":111.5,"v":0.2},{"x":1.8,"y":111.5,"v":0.15},{"x":4.5,"y":111.5,"v":0.12},
{"x":-46.5,"y":108.8,"v":0.2},{"x":-43.8,"y":108.8,"v":0.26},{"x":-41.1,"y":108.8,"v":0.38},{"x":-38.4,"y":108.8,"v":0.56},{"x":-35.8,"y":108.8,"v":0.67},{"x":-33.1,"y":108.8,"v":0.69},{"x":-30.4,"y":108.8,"v":0.72},{"x":-27.7,"y":108.8,"v":0.75},{"x":-25,"y":108.8,"v":0.755},{"x":-22.3,"y":108.8,"v":0.755},{"x":-19.7,"y":108.8,"v":0.74},{"x":-17,"y":108.8,"v":0.72},{"x":-14.3,"y":108.8,"v":0.69},{"x":-11.6,"y":108.8,"v":0.63},{"x":-8.9,"y":108.8,"v":0.49},{"x":-6.2,"y":108.8,"v":0.36},{"x":-3.6,"y":108.8,"v":0.27},{"x":-0.9,"y":108.8,"v":0.2},{"x":1.8,"y":108.8,"v":0.15},{"x":4.5,"y":108.8,"v":0.12},
{"x":-46.5,"y":106.1,"v":0.19},{"x":-43.8,"y":106.1,"v":0.25},{"x":-41.1,"y":106.1,"v":0.36},{"x":-38.4,"y":106.1,"v":0.53},{"x":-35.8,"y":106.1,"v":0.66},{"x":-33.1,"y":106.1,"v":0.69},{"x":-30.4,"y":106.1,"v":0.72},{"x":-27.7,"y":106.1,"v":0.75},{"x":-25,"y":106.1,"v":0.755},{"x":-22.3,"y":106.1,"v":0.75},{"x":-19.7,"y":106.1,"v":0.73},{"x":-17,"y":106.1,"v":0.71},{"x":-14.3,"y":106.1,"v":0.67},{"x":-11.6,"y":106.1,"v":0.55},{"x":-8.9,"y":106.1,"v":0.42},{"x":-6.2,"y":106.1,"v":0.31},{"x":-3.6,"y":106.1,"v":0.25},{"x":-0.9,"y":106.1,"v":0.19},{"x":1.8,"y":106.1,"v":0.15},{"x":4.5,"y":106.1,"v":0.12},
{"x":-46.5,"y":103.5,"v":0.17},{"x":-43.8,"y":103.5,"v":0.23},{"x":-41.1,"y":103.5,"v":0.31},{"x":-38.4,"y":103.5,"v":0.47},{"x":-35.8,"y":103.5,"v":0.61},{"x":-33.1,"y":103.5,"v":0.68},{"x":-30.4,"y":103.5,"v":0.72},{"x":-27.7,"y":103.5,"v":0.74},{"x":-25,"y":103.5,"v":0.75},{"x":-22.3,"y":103.5,"v":0.74},{"x":-19.7,"y":103.5,"v":0.72},{"x":-17,"y":103.5,"v":0.69},{"x":-14.3,"y":103.5,"v":0.62},{"x":-11.6,"y":103.5,"v":0.47},{"x":-8.9,"y":103.5,"v":0.36},{"x":-6.2,"y":103.5,"v":0.28},{"x":-3.6,"y":103.5,"v":0.23},{"x":-0.9,"y":103.5,"v":0.18},{"x":1.8,"y":103.5,"v":0.15},{"x":4.5,"y":103.5,"v":0.12},
{"x":-46.5,"y":100.8,"v":0.16},{"x":-43.8,"y":100.8,"v":0.21},{"x":-41.1,"y":100.8,"v":0.27},{"x":-38.4,"y":100.8,"v":0.39},{"x":-35.8,"y":100.8,"v":0.53},{"x":-33.1,"y":100.8,"v":0.63},{"x":-30.4,"y":100.8,"v":0.7},{"x":-27.7,"y":100.8,"v":0.73},{"x":-25,"y":100.8,"v":0.74},{"x":-22.3,"y":100.8,"v":0.73},{"x":-19.7,"y":100.8,"v":0.71},{"x":-17,"y":100.8,"v":0.67},{"x":-14.3,"y":100.8,"v":0.53},{"x":-11.6,"y":100.8,"v":0.41},{"x":-8.9,"y":100.8,"v":0.32},{"x":-6.2,"y":100.8,"v":0.26},{"x":-3.6,"y":100.8,"v":0.22},{"x":-0.9,"y":100.8,"v":0.18},{"x":1.8,"y":100.8,"v":0.15},{"x":4.5,"y":100.8,"v":0.12},
{"x":-46.5,"y":98.1,"v":0.15},{"x":-43.8,"y":98.1,"v":0.19},{"x":-41.1,"y":98.1,"v":0.24},{"x":-38.4,"y":98.1,"v":0.31},{"x":-35.8,"y":98.1,"v":0.42},{"x":-33.1,"y":98.1,"v":0.54},{"x":-30.4,"y":98.1,"v":0.65},{"x":-27.7,"y":98.1,"v":0.7},{"x":-25,"y":98.1,"v":0.72},{"x":-22.3,"y":98.1,"v":0.71},{"x":-19.7,"y":98.1,"v":0.69},{"x":-17,"y":98.1,"v":0.62},{"x":-14.3,"y":98.1,"v":0.46},{"x":-11.6,"y":98.1,"v":0.35},{"x":-8.9,"y":98.1,"v":0.29},{"x":-6.2,"y":98.1,"v":0.25},{"x":-3.6,"y":98.1,"v":0.21},{"x":-0.9,"y":98.1,"v":0.17},{"x":1.8,"y":98.1,"v":0.15},{"x":4.5,"y":98.1,"v":0.12},
{"x":-46.5,"y":95.4,"v":0.14},{"x":-43.8,"y":95.4,"v":0.18},{"x":-41.1,"y":95.4,"v":0.22},{"x":-38.4,"y":95.4,"v":0.27},{"x":-35.8,"y":95.4,"v":0.34},{"x":-33.1,"y":95.4,"v":0.44},{"x":-30.4,"y":95.4,"v":0.57},{"x":-27.7,"y":95.4,"v":0.65},{"x":-25,"y":95.4,"v":0.68},{"x":-22.3,"y":95.4,"v":0.68},{"x":-19.7,"y":95.4,"v":0.65},{"x":-17,"y":95.4,"v":0.52},{"x":-14.3,"y":95.4,"v":0.39},{"x":-11.6,"y":95.4,"v":0.31},{"x":-8.9,"y":95.4,"v":0.27},{"x":-6.2,"y":95.4,"v":0.24},{"x":-3.6,"y":95.4,"v":0.2},{"x":-0.9,"y":95.4,"v":0.17},{"x":1.8,"y":95.4,"v":0.14},{"x":4.5,"y":95.4,"v":0.12},
{"x":-46.5,"y":92.7,"v":0.13},{"x":-43.8,"y":92.7,"v":0.17},{"x":-41.1,"y":92.7,"v":0.2},{"x":-38.4,"y":92.7,"v":0.24},{"x":-35.8,"y":92.7,"v":0.29},{"x":-33.1,"y":92.7,"v":0.35},{"x":-30.4,"y":92.7,"v":0.44},{"x":-27.7,"y":92.7,"v":0.55},{"x":-25,"y":92.7,"v":0.62},{"x":-22.3,"y":92.7,"v":0.63},{"x":-19.7,"y":92.7,"v":0.56},{"x":-17,"y":92.7,"v":0.43},{"x":-14.3,"y":92.7,"v":0.33},{"x":-11.6,"y":92.7,"v":0.28},{"x":-8.9,"y":92.7,"v":0.25},{"x":-6.2,"y":92.7,"v":0.22},{"x":-3.6,"y":92.7,"v":0.19},{"x":-0.9,"y":92.7,"v":0.16},{"x":1.8,"y":92.7,"v":0.14},{"x":4.5,"y":92.7,"v":0.12},
{"x":-46.5,"y":90,"v":0.12},{"x":-43.8,"y":90,"v":0.15},{"x":-41.1,"y":90,"v":0.18},{"x":-38.4,"y":90,"v":0.21},{"x":-35.8,"y":90,"v":0.25},{"x":-33.1,"y":90,"v":0.29},{"x":-30.4,"y":90,"v":0.34},{"x":-27.7,"y":90,"v":0.41},{"x":-25,"y":90,"v":0.46},{"x":-22.3,"y":90,"v":0.47},{"x":-19.7,"y":90,"v":0.42},{"x":-17,"y":90,"v":0.35},{"x":-14.3,"y":90,"v":0.29},{"x":-11.6,"y":90,"v":0.26},{"x":-8.9,"y":90,"v":0.23},{"x":-6.2,"y":90,"v":0.2},{"x":-3.6,"y":90,"v":0.18},{"x":-0.9,"y":90,"v":0.16},{"x":1.8,"y":90,"v":0.14},{"x":4.5,"y":90,"v":0.12},
{"x":-46.5,"y":87.4,"v":0.11},{"x":-43.8,"y":87.4,"v":0.14},{"x":-41.1,"y":87.4,"v":0.16},{"x":-38.4,"y":87.4,"v":0.19},{"x":-35.8,"y":87.4,"v":0.22},{"x":-33.1,"y":87.4,"v":0.25},{"x":-30.4,"y":87.4,"v":0.28},{"x":-27.7,"y":87.4,"v":0.31},{"x":-25,"y":87.4,"v":0.33},{"x":-22.3,"y":87.4,"v":0.33},{"x":-19.7,"y":87.4,"v":0.31},{"x":-17,"y":87.4,"v":0.28},{"x":-14.3,"y":87.4,"v":0.26},{"x":-11.6,"y":87.4,"v":0.24},{"x":-8.9,"y":87.4,"v":0.21},{"x":-6.2,"y":87.4,"v":0.19},{"x":-3.6,"y":87.4,"v":0.17},{"x":-0.9,"y":87.4,"v":0.15},{"x":1.8,"y":87.4,"v":0.13},{"x":4.5,"y":87.4,"v":0.12},
{"x":-46.5,"y":84.7,"v":0.1},{"x":-43.8,"y":84.7,"v":0.13},{"x":-41.1,"y":84.7,"v":0.15},{"x":-38.4,"y":84.7,"v":0.17},{"x":-35.8,"y":84.7,"v":0.2},{"x":-33.1,"y":84.7,"v":0.22},{"x":-30.4,"y":84.7,"v":0.24},{"x":-27.7,"y":84.7,"v":0.26},{"x":-25,"y":84.7,"v":0.27},{"x":-22.3,"y":84.7,"v":0.27},{"x":-19.7,"y":84.7,"v":0.26},{"x":-17,"y":84.7,"v":0.25},{"x":-14.3,"y":84.7,"v":0.23},{"x":-11.6,"y":84.7,"v":0.21},{"x":-8.9,"y":84.7,"v":0.19},{"x":-6.2,"y":84.7,"v":0.18},{"x":-3.6,"y":84.7,"v":0.16},{"x":-0.9,"y":84.7,"v":0.14},{"x":1.8,"y":84.7,"v":0.13},{"x":4.5,"y":84.7,"v":0.12},
{"x":-46.5,"y":82,"v":0.1},{"x":-43.8,"y":82,"v":0.12},{"x":-41.1,"y":82,"v":0.14},{"x":-38.4,"y":82,"v":0.16},{"x":-35.8,"y":82,"v":0.18},{"x":-33.1,"y":82,"v":0.2},{"x":-30.4,"y":82,"v":0.22},{"x":-27.7,"y":82,"v":0.23},{"x":-25,"y":82,"v":0.24},{"x":-22.3,"y":82,"v":0.24},{"x":-19.7,"y":82,"v":0.23},{"x":-17,"y":82,"v":0.22},{"x":-14.3,"y":82,"v":0.21},{"x":-11.6,"y":82,"v":0.19},{"x":-8.9,"y":82,"v":0.18},{"x":-6.2,"y":82,"v":0.17},{"x":-3.6,"y":82,"v":0.15},{"x":-0.9,"y":82,"v":0.14},{"x":1.8,"y":82,"v":0.13},{"x":4.5,"y":82,"v":0.12},
{"x":-46.5,"y":79.3,"v":0.09},{"x":-43.8,"y":79.3,"v":0.11},{"x":-41.1,"y":79.3,"v":0.13},{"x":-38.4,"y":79.3,"v":0.15},{"x":-35.8,"y":79.3,"v":0.17},{"x":-33.1,"y":79.3,"v":0.19},{"x":-30.4,"y":79.3,"v":0.2},{"x":-27.7,"y":79.3,"v":0.21},{"x":-25,"y":79.3,"v":0.22},{"x":-22.3,"y":79.3,"v":0.22},{"x":-19.7,"y":79.3,"v":0.21},{"x":-17,"y":79.3,"v":0.2},{"x":-14.3,"y":79.3,"v":0.19},{"x":-11.6,"y":79.3,"v":0.18},{"x":-8.9,"y":79.3,"v":0.17},{"x":-6.2,"y":79.3,"v":0.16},{"x":-3.6,"y":79.3,"v":0.15},{"x":-0.9,"y":79.3,"v":0.14},{"x":1.8,"y":79.3,"v":0.13},{"x":4.5,"y":79.3,"v":0.12}]},
"resolve":{"scale":{"y":"independent"}},
"layer":[
{"data":{"name":"body"},"mark":{"type":"rect","fill":"white","stroke":"black","strokeWidth":2.5,"clip":true},"encoding":{"x":{"field":"x","type":"quantitative","axis":null,"scale":{"domain":[-290.3,358.4],"nice":false}},"x2":{"field":"x2"},"y":{"field":"y","type":"quantitative","axis":null,"scale":{"domain":[-99.2,263.2],"nice":false}},"y2":{"field":"y2"}}},
{"data":{"name":"frame"},"mark":{"type":"rect","fill":"#b7dde8","stroke":"black","strokeWidth":2.5},"encoding":{"x":{"field":"x","type":"quantitative","axis":null,"scale":{"domain":[-290.3,358.4],"nice":false}},"x2":{"field":"x2"},"y":{"field":"y","type":"quantitative","axis":null,"scale":{"domain":[-99.2,263.2],"nice":false}},"y2":{"field":"y2"}}},
{"data":{"name":"coarse"},"mark":{"type":"rect","width":16,"height":16},"encoding":{"x":{"field":"x","type":"quantitative","axis":null,"scale":{"domain":[-290.3,358.4],"nice":false}},"y":{"field":"y","type":"quantitative","axis":null,"scale":{"domain":[-99.2,263.2],"nice":false}},"color":{"field":"v","type":"quantitative","legend":null,"scale":{"type":"linear","domain":[0,0.072,0.165,0.26,0.36,0.463,0.56,0.658,0.759],"range":["#000080","#0000ff","#0080ff","#00ffff","#80ff80","#ffff00","#ff8000","#ff0000","#7f0000"]}}}},
{"data":{"name":"fine"},"mark":{"type":"rect","width":6.4,"height":6.4},"encoding":{"x":{"field":"x","type":"quantitative","axis":null,"scale":{"domain":[-290.3,358.4],"nice":false}},"y":{"field":"y","type":"quantitative","axis":null,"scale":{"domain":[-99.2,263.2],"nice":false}},"color":{"field":"v","type":"quantitative","legend":null,"scale":{"type":"linear","domain":[0,0.072,0.165,0.26,0.36,0.463,0.56,0.658,0.759],"range":["#000080","#0000ff","#0080ff","#00ffff","#80ff80","#ffff00","#ff8000","#ff0000","#7f0000"]}}}},
{"data":{"name":"phone"},"mark":{"type":"rect","fillOpacity":0,"stroke":"white","strokeWidth":3.5,"cornerRadius":2},"encoding":{"x":{"field":"x","type":"quantitative","axis":null,"scale":{"domain":[-290.3,358.4],"nice":false}},"x2":{"field":"x2"},"y":{"field":"y","type":"quantitative","axis":null,"scale":{"domain":[-99.2,263.2],"nice":false}},"y2":{"field":"y2"}}},
{"data":{"name":"heads"},"mark":{"type":"text","font":"Lato","fontWeight":"bold","fontSize":26.5,"color":"black"},"encoding":{"x":{"field":"x","type":"quantitative","axis":null,"scale":{"domain":[-290.3,358.4],"nice":false}},"y":{"field":"y","type":"quantitative","axis":null,"scale":{"domain":[-99.2,263.2],"nice":false}},"text":{"field":"t"}}},
{"data":{"name":"caps"},"mark":{"type":"text","font":"Noto Sans","fontSize":25,"color":"#111"},"encoding":{"x":{"field":"x","type":"quantitative","axis":null,"scale":{"domain":[-290.3,358.4],"nice":false}},"y":{"field":"y","type":"quantitative","axis":null,"scale":{"domain":[-99.2,263.2],"nice":false}},"text":{"field":"t"}}},
{"data":{"name":"ylabs"},"mark":{"type":"text","font":"Noto Sans","fontSize":25,"color":"#111","align":"left","dy":1.5},"encoding":{"x":{"datum":-137.3,"type":"quantitative","axis":null,"scale":{"domain":[-290.3,358.4],"nice":false}},"y":{"field":"y","type":"quantitative","axis":null,"scale":{"domain":[-99.2,263.2],"nice":false}},"text":{"field":"t"}}},
{"data":{"values":[{"t":"Y (mm)"}]},"mark":{"type":"text","font":"Noto Sans","fontSize":25,"color":"#111","align":"left"},"encoding":{"x":{"datum":-174.9,"type":"quantitative","axis":null,"scale":{"domain":[-290.3,358.4],"nice":false}},"y":{"datum":59.6,"type":"quantitative","axis":null,"scale":{"domain":[-99.2,263.2],"nice":false}},"text":{"field":"t"}}},
{"data":{"name":"xlabs"},"mark":{"type":"text","font":"Noto Sans","fontSize":25,"color":"#111"},"encoding":{"x":{"field":"x","type":"quantitative","axis":null,"scale":{"domain":[-290.3,358.4],"nice":false}},"y":{"datum":-51.4,"type":"quantitative","axis":null,"scale":{"domain":[-99.2,263.2],"nice":false}},"text":{"field":"t"}}},
{"data":{"name":"ticks"},"mark":{"type":"text","font":"Noto Sans","fontSize":25,"color":"#111","align":"left","dy":-4},"encoding":{"x":{"datum":214.8,"type":"quantitative","axis":null,"scale":{"domain":[-290.3,358.4],"nice":false}},"y":{"field":"v","type":"quantitative","axis":null,"scale":{"domain":[-0.0812,1.0532],"nice":false}},"text":{"field":"t"}}},
{"data":{"name":"bar"},"mark":{"type":"rect","width":70,"height":11.5},"encoding":{"x":{"datum":179.5,"type":"quantitative","axis":null,"scale":{"domain":[-290.3,358.4],"nice":false}},"y":{"field":"v","type":"quantitative","axis":null,"scale":{"domain":[-0.0812,1.0532],"nice":false}},"color":{"field":"v","type":"quantitative","legend":null,"scale":{"type":"linear","domain":[0,0.072,0.165,0.26,0.36,0.463,0.56,0.658,0.759],"range":["#000080","#0000ff","#0080ff","#00ffff","#80ff80","#ffff00","#ff8000","#ff0000","#7f0000"]}}}},
{"data":{"values":[{"a":0}]},"mark":{"type":"rect","fillOpacity":0,"stroke":"#0a0a0a","strokeWidth":3},"encoding":{"x":{"datum":163.8,"type":"quantitative","axis":null,"scale":{"domain":[-290.3,358.4],"nice":false}},"x2":{"datum":195.1},"y":{"datum":0,"type":"quantitative","axis":null,"scale":{"domain":[-0.0812,1.0532],"nice":false}},"y2":{"datum":0.759}}}
]}
